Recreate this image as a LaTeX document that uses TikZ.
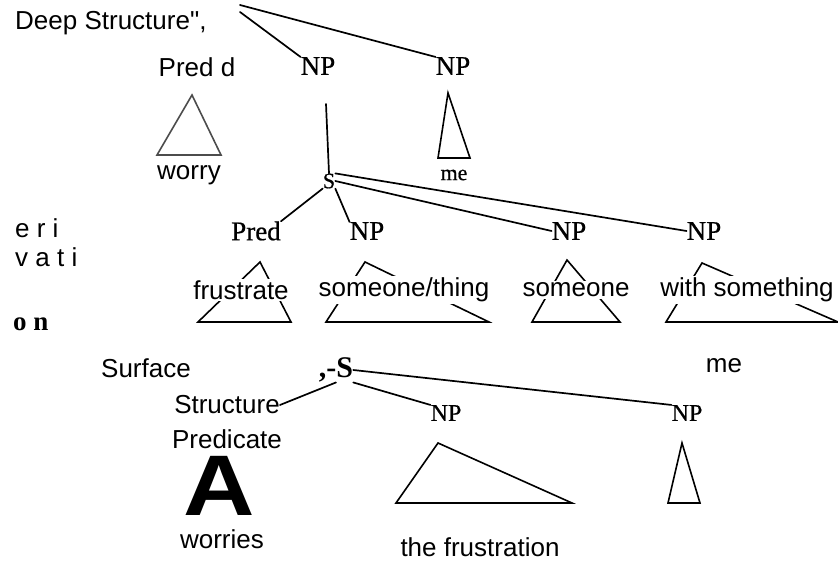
\documentclass[tikz,border=0pt]{standalone}
\usepackage{fontspec}
\setmainfont{Liberation Sans}
\newfontfamily\plainsans{Liberation Sans}
\newfontfamily\scanfont[FakeBold=0.6]{Liberation Serif}
\newfontfamily\scanbold{Liberation Serif Bold}
\begin{document}
\begin{tikzpicture}[x=1pt,y=-1pt,
  sanslbl/.style={font=\fontsize{26}{30}\selectfont, inner sep=0pt},
  rowlbl/.style={font=\fontsize{26}{30}\selectfont, inner sep=1.5pt, fill=white},
  scanlbl/.style={font=\scanfont\fontsize{27}{30}\selectfont, inner sep=0pt},
  edge/.style={line width=1.7pt, line cap=round},
  tri/.style={line width=1.6pt, line join=miter},
  lighttri/.style={line width=1.6pt, draw=black!70}]
\path[use as bounding box] (0,0) rectangle (838,561);

% ---------- deep structure ----------
\node[sanslbl, anchor=west, font=\plainsans\fontsize{26}{30}\selectfont] (deep) at (15,23) {Deep Structure",};
\coordinate (topA) at (240,5);
\coordinate (topB) at (240,12);
\node[sanslbl] (predd) at (197,67) {Pred d};
\node[scanlbl] (np1) at (318,66) {NP};
\node[scanlbl] (np2) at (453,66) {NP};
\draw[edge] (topA) -- (np2.north west);
\draw[edge] (topB) -- (np1.north west);

\coordinate (wA) at (192,95); \coordinate (wB) at (157,155); \coordinate (wC) at (221,155);
\draw[lighttri] (wA) -- (wB) -- (wC) -- cycle;
\node[sanslbl] (worry) at (189,175) {worry};

\coordinate (mA) at (448,93); \coordinate (mB) at (438,158); \coordinate (mC) at (470,158);
\draw[tri] (mA) -- (mB) -- (mC) -- cycle;
\node[scanlbl, font=\scanfont\fontsize{22}{24}\selectfont] (me1) at (454,175) {me};

\node[scanlbl, font=\scanfont\fontsize{22}{24}\selectfont] (s1) at (329,181) {S};
\coordinate (np1b) at (326,104);
\draw[edge] (np1b) -- (s1.north);

% ---------- row 2 ----------
\node[scanlbl] (pred2) at (256,231) {Pred};
\node[scanlbl] (npA) at (367,231) {NP};
\node[scanlbl] (npB) at (569,231) {NP};
\node[scanlbl] (npC) at (704,231) {NP};
\draw[edge] (s1.south west) -- (pred2.north east);
\draw[edge] (s1.south east) -- (npA.north west);
\draw[edge] (s1.east) -- (npB.west);
\draw[edge] (s1.north east) -- (npC.west);

\node[sanslbl, anchor=west] (eri) at (15,228) {e r i};
\node[sanslbl, anchor=west] (vati) at (15,257) {v a t i};
\node[anchor=west, inner sep=0pt, font=\scanbold\fontsize{27}{30}\selectfont] (on) at (13,324) {o n};

% ---------- row 3 triangles ----------
\coordinate (t1a) at (260,262); \coordinate (t1b) at (198,322); \coordinate (t1c) at (291,322);
\coordinate (t2a) at (365,262); \coordinate (t2b) at (326,322); \coordinate (t2c) at (489,322);
\coordinate (t3a) at (567,260); \coordinate (t3b) at (532,322); \coordinate (t3c) at (620,322);
\coordinate (t4a) at (702,263); \coordinate (t4b) at (666,322); \coordinate (t4c) at (838,322);
\draw[tri] (t1a) -- (t1b) -- (t1c) -- cycle;
\draw[tri] (t2a) -- (t2b) -- (t2c) -- cycle;
\draw[tri] (t3a) -- (t3b) -- (t3c) -- cycle;
\draw[tri] (t4a) -- (t4b) -- (t4c) -- cycle;
\node[rowlbl] (frus) at (241,290) {frustrate};
\node[rowlbl] (sth) at (404,290) {someone/thing};
\node[rowlbl] (so) at (576,290) {someone};
\node[rowlbl] (wsth) at (747,290) {with something};

% ---------- surface structure ----------
\node[sanslbl] (surf) at (146,368) {Surface};
\node[inner sep=0pt, font=\scanbold\fontsize{30}{32}\selectfont] (s2) at (336,370) {,-S};
\node[sanslbl] (me2) at (724,366) {me};
\node[sanslbl] (struct) at (227,405) {Structure};
\node[sanslbl] (predic) at (227,439) {Predicate};
\node[sanslbl, font=\bfseries\fontsize{86}{86}\selectfont] (bigA) at (219,486) {\scalebox{1.15}[1]{A}};
\node[sanslbl] (worries) at (222,539) {worries};
\node[scanlbl, font=\scanfont\fontsize{24}{26}\selectfont] (npM) at (446,413) {NP};
\node[scanlbl, font=\scanfont\fontsize{24}{26}\selectfont] (npR) at (687,413) {NP};
\draw[edge] (s2.east) -- (npR.north west);
\draw[edge] (s2.south east) -- (npM.north west);
\draw[edge] (s2.south) -- (struct.east);

\coordinate (bA) at (438,443); \coordinate (bB) at (396,503); \coordinate (bC) at (572,503);
\draw[tri] (bA) -- (bB) -- (bC) -- cycle;
\coordinate (rA) at (682,443); \coordinate (rB) at (668,503); \coordinate (rC) at (700,503);
\draw[tri] (rA) -- (rB) -- (rC) -- cycle;
\node[sanslbl] (thefr) at (480,547) {the frustration};
\end{tikzpicture}
\end{document}
